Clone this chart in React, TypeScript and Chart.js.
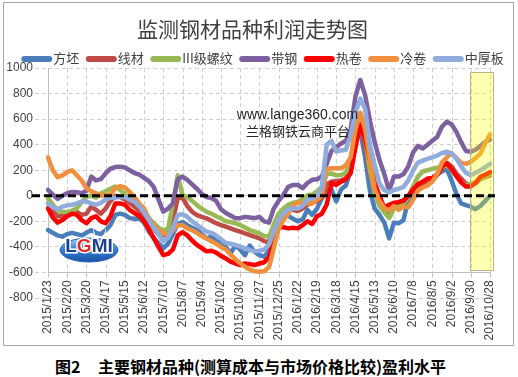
import React, { useEffect, useRef } from 'react';
import { Chart, registerables } from 'chart.js';

Chart.register(...registerables);

const categories = [
  '2015/1/23','2015/1/30','2015/2/6','2015/2/13','2015/2/20','2015/2/27','2015/3/6','2015/3/13','2015/3/20','2015/3/27',
  '2015/4/3','2015/4/10','2015/4/17','2015/4/24','2015/5/1','2015/5/8','2015/5/15','2015/5/22','2015/5/29','2015/6/5',
  '2015/6/12','2015/6/19','2015/6/26','2015/7/3','2015/7/10','2015/7/17','2015/7/24','2015/7/31','2015/8/7','2015/8/14',
  '2015/8/21','2015/8/28','2015/9/4','2015/9/11','2015/9/18','2015/9/25','2015/10/2','2015/10/9','2015/10/16','2015/10/23',
  '2015/10/30','2015/11/6','2015/11/13','2015/11/20','2015/11/27','2015/12/4','2015/12/11','2015/12/18','2015/12/25',
  '2016/1/1','2016/1/8','2016/1/15','2016/1/22','2016/1/29','2016/2/5','2016/2/12','2016/2/19','2016/2/26','2016/3/4',
  '2016/3/11','2016/3/18','2016/3/25','2016/4/1','2016/4/8','2016/4/15','2016/4/22','2016/4/29','2016/5/6','2016/5/13',
  '2016/5/20','2016/5/27','2016/6/3','2016/6/10','2016/6/17','2016/6/24','2016/7/1','2016/7/8','2016/7/15','2016/7/22',
  '2016/7/29','2016/8/5','2016/8/12','2016/8/19','2016/8/26','2016/9/2','2016/9/9','2016/9/16','2016/9/23','2016/9/30',
  '2016/10/7','2016/10/14','2016/10/21','2016/10/28'
];

// 方坯
const fangpi = [
  -268,-290,-310,-320,-300,-290,-300,-310,-290,-270,
  -290,-300,-270,-230,-150,-140,-150,-175,-180,-177,
  -210,-280,-330,-370,-412,-375,-300,-220,-205,-230,
  -250,-268,-300,-333,-320,-340,-380,-400,-450,-390,
  -420,-465,-390,-440,-465,-477,-430,-300,-200,-160,
  -155,-180,-200,-185,-110,-150,-100,-20,40,50,
  -45,50,80,200,420,510,300,40,-100,-150,
  -210,-333,-210,-215,-190,-30,25,80,97,100,
  130,165,190,210,120,15,-60,-73,-85,-105,
  -80,-40,0
];
// 线材
const xiancai = [
  -60,-120,-160,-155,-150,-135,-125,-150,-140,-85,
  -110,-140,-100,-40,0,-10,-30,-55,-85,-120,
  -160,-215,-260,-300,-310,-300,-190,-20,-15,-80,
  -125,-151,-165,-177,-195,-215,-230,-242,-255,-268,
  -281,-295,-307,-320,-333,-355,-365,-250,-165,-120,
  -100,-110,-120,-100,-70,-55,-40,-15,90,110,
  115,120,135,230,450,578,380,170,20,-50,
  -85,-125,-80,-50,-35,0,40,75,100,115,
  128,165,210,258,230,175,135,95,88,100,
  130,145,160
];
// III级螺纹
const luowen = [
  -21,-70,-115,-125,-130,-115,-99,-50,-8,0,
  -15,20,35,55,73,45,15,-20,-45,-80,
  -120,-175,-215,-250,-270,-260,-60,160,5,-10,
  -40,-73,-100,-125,-140,-160,-178,-200,-205,-215,
  -229,-248,-268,-280,-294,-315,-320,-225,-140,-100,
  -70,-55,-48,-25,5,10,35,70,170,175,
  160,162,180,280,540,630,460,200,20,-80,
  -130,-175,-100,-80,-60,-10,75,150,190,200,
  210,220,228,238,205,150,105,85,90,110,
  130,150,170
];
// 带钢
const daigang = [
  47,10,-25,0,20,30,28,20,40,150,
  120,130,175,213,225,228,222,200,178,165,
  140,115,70,-30,-125,-100,-60,130,150,125,
  90,55,15,-10,-18,-40,-105,-135,-155,-175,
  -175,-165,-170,-175,-165,-200,-210,-100,-40,8,
  70,85,85,60,100,125,130,150,250,350,
  380,410,430,520,780,906,790,590,420,280,
  170,40,150,150,170,230,340,390,370,400,
  430,460,540,580,560,500,420,350,345,360,
  390,420,440
];
// 热卷
const rejuan = [
  -100,-170,-210,-190,-160,-140,-150,-190,-215,-175,
  -160,-200,-215,-160,-60,-60,-70,-110,-135,-160,
  -200,-265,-330,-400,-464,-455,-420,-310,-285,-310,
  -350,-385,-410,-435,-430,-445,-470,-490,-515,-530,
  -542,-530,-535,-542,-530,-520,-480,-355,-250,-245,
  -255,-250,-255,-230,-200,-220,-160,-140,-70,100,
  85,110,130,175,380,560,450,290,100,0,
  -95,-70,-55,-50,-40,0,50,90,110,135,
  140,165,230,255,210,155,105,72,73,100,
  148,165,185
];
// 冷卷
const lengjuan = [
  300,200,145,160,185,200,160,120,60,35,
  20,0,5,10,60,75,65,30,-10,-60,
  -100,-180,-230,-270,-295,-305,-270,-230,-230,-255,
  -270,-290,-315,-335,-355,-375,-400,-420,-460,-495,
  -530,-555,-578,-590,-595,-590,-560,-410,-260,-190,
  -140,-80,-50,-60,-60,-60,-30,0,210,215,
  215,215,240,300,520,650,520,290,50,-40,
  -95,-115,-80,-110,-85,-90,-30,40,65,80,
  110,170,260,300,335,295,260,250,265,295,
  330,410,480
];
// 中厚板
const zhonghouban = [
  -60,-90,-105,-85,-75,-70,-60,-45,-45,-60,
  -70,-55,-30,-15,-15,-8,-10,-30,-47,-80,
  -130,-190,-250,-300,-355,-330,-250,-150,-145,-165,
  -200,-227,-255,-280,-290,-310,-340,-370,-375,-385,
  -398,-410,-425,-435,-430,-420,-380,-280,-190,-140,
  -105,-100,-100,-80,-30,-20,0,70,400,430,
  345,355,360,480,650,760,680,400,240,95,
  45,25,45,55,70,120,200,260,275,290,
  300,315,335,345,330,290,230,180,160,180,
  200,225,250
];

const seriesNames = ['方坯', '线材', 'III级螺纹', '带钢', '热卷', '冷卷', '中厚板'];
const seriesData = [fangpi, xiancai, luowen, daigang, rejuan, lengjuan, zhonghouban];
const seriesColors = ['#4A7EBB', '#BE4B48', '#98B954', '#7D60A0', '#FF0000', '#F0903F', '#8FACDD'];

const yMin = -800;
const yMax = 1000;
const yStep = 200;
const axisCross = -600;
const labelStep = 4;
const highlightFrom = 87.8;
const highlightTo = 92.6;
const highlightTop = 969;
const highlightBottom = -581;

const titleText = '监测钢材品种利润走势图';
const captionLead = '图2';
const captionText = '主要钢材品种(测算成本与市场价格比较)盈利水平';
const watermarkUrl = 'www.lange360.com';
const watermarkName = '兰格钢铁云商平台';
const logoText = 'LGMI';

const GRID = '#CFCFCF';
const AXIS = '#BFBFBF';
const TEXT = '#404040';
const CJK = '"Noto Sans CJK SC"';

const decorPlugin = {
  id: 'decor',
  beforeDatasetsDraw(chart: any) {
    const { ctx } = chart;
    const xs = chart.scales.x;
    const ys = chart.scales.y;
    const top = ys.getPixelForValue(yMax);
    const bottom = Math.round(ys.getPixelForValue(axisCross)) + 0.5;
    ctx.save();
    ctx.lineWidth = 1;
    ctx.strokeStyle = GRID;
    ctx.setLineDash([4, 3]);
    for (let i = labelStep; i < categories.length; i += labelStep) {
      const px = Math.round(xs.getPixelForValue(i)) + 0.5;
      ctx.beginPath();
      ctx.moveTo(px, top);
      ctx.lineTo(px, bottom);
      ctx.stroke();
    }
    ctx.setLineDash([]);
    ctx.strokeStyle = AXIS;
    const x0 = Math.round(xs.getPixelForValue(0)) + 0.5;
    ctx.beginPath();
    ctx.moveTo(x0, top);
    ctx.lineTo(x0, bottom);
    ctx.stroke();
    for (let i = 0; i < categories.length; i += labelStep) {
      const px = Math.round(xs.getPixelForValue(i)) + 0.5;
      ctx.beginPath();
      ctx.moveTo(px, bottom);
      ctx.lineTo(px, bottom + 5);
      ctx.stroke();
    }
    ctx.restore();
  },
  afterDatasetsDraw(chart: any) {
    const { ctx, chartArea } = chart;
    const xs = chart.scales.x;
    const ys = chart.scales.y;
    ctx.save();
    // highlight box
    const l = xs.getPixelForValue(highlightFrom);
    const r = xs.getPixelForValue(highlightTo);
    const t = ys.getPixelForValue(highlightTop);
    const b = ys.getPixelForValue(highlightBottom);
    ctx.fillStyle = 'rgba(255,255,0,0.3)';
    ctx.fillRect(l, t, r - l, b - t);
    ctx.strokeStyle = '#B8B68C';
    ctx.lineWidth = 1;
    ctx.strokeRect(Math.round(l) + 0.5, Math.round(t) + 0.5, Math.round(r - l), Math.round(b - t));
    // zero line
    const y0 = ys.getPixelForValue(0);
    ctx.strokeStyle = '#000000';
    ctx.lineWidth = 3;
    ctx.setLineDash([8, 4]);
    ctx.beginPath();
    ctx.moveTo(chartArea.left - 16, y0);
    ctx.lineTo(chartArea.right + 5, y0);
    ctx.stroke();
    ctx.setLineDash([]);
    // logo
    const cx = 89, cy = 248;
    const grad = ctx.createLinearGradient(0, cy - 12, 0, cy + 12);
    grad.addColorStop(0, '#BFE0FA');
    grad.addColorStop(0.5, '#3C86D8');
    grad.addColorStop(1, '#1D58AE');
    ctx.fillStyle = grad;
    ctx.beginPath();
    ctx.ellipse(cx, cy + 2, 29, 12, 0, 0, Math.PI * 2);
    ctx.fill();
    ctx.strokeStyle = '#2A62B5';
    ctx.lineWidth = 1;
    ctx.stroke();
    ctx.font = 'bold 19px "Liberation Sans"';
    ctx.textBaseline = 'middle';
    ctx.textAlign = 'left';
    const letterColors = ['#1E3F8F', '#E32626', '#1E3F8F', '#1E3F8F'];
    const totalW = ctx.measureText(logoText).width;
    let lx = cx - totalW / 2;
    for (let k = 0; k < logoText.length; k++) {
      const ch = logoText[k];
      ctx.lineWidth = 3;
      ctx.strokeStyle = '#FFFFFF';
      ctx.strokeText(ch, lx, cy - 1);
      ctx.fillStyle = letterColors[k];
      ctx.fillText(ch, lx, cy - 1);
      lx += ctx.measureText(ch).width;
    }
    ctx.restore();
  },
  afterDraw(chart: any) {
    const { ctx } = chart;
    ctx.save();
    // title
    ctx.font = `21px ${CJK}`;
    ctx.fillStyle = TEXT;
    ctx.textAlign = 'center';
    ctx.textBaseline = 'middle';
    ctx.fillText(titleText, 252.5, 29.5);
    // legend
    ctx.font = `13px ${CJK}`;
    const lineLen = 25, cap = 3, gapText = 1, gapItem = 6.5;
    const widths = seriesNames.map((n) => ctx.measureText(n).width);
    const itemW = widths.map((w) => cap * 2 + lineLen + gapText + w);
    const total = itemW.reduce((a, b) => a + b, 0) + gapItem * (seriesNames.length - 1);
    let x = 262.5 - total / 2;
    ctx.textAlign = 'left';
    ctx.lineCap = 'round';
    seriesNames.forEach((n, k) => {
      ctx.strokeStyle = seriesColors[k];
      ctx.lineWidth = 6;
      ctx.beginPath();
      ctx.moveTo(x + cap, 59);
      ctx.lineTo(x + cap + lineLen, 59);
      ctx.stroke();
      ctx.fillStyle = TEXT;
      ctx.fillText(n, x + cap * 2 + lineLen + gapText, 58);
      x += itemW[k] + gapItem;
    });
    // watermark
    ctx.fillStyle = '#262626';
    ctx.textAlign = 'center';
    ctx.font = '14px "Liberation Sans"';
    ctx.fillText(watermarkUrl, 297.5, 115);
    ctx.font = `13px ${CJK}`;
    ctx.fillText(watermarkName, 298, 131);
    ctx.restore();
  },
};

export default function App() {
  const ref = useRef<HTMLCanvasElement>(null);
  useEffect(() => {
    const canvas = ref.current;
    if (!canvas) return;
    const chart = new Chart(canvas, {
      type: 'line',
      data: {
        labels: categories,
        datasets: seriesNames.map((name, k) => ({
          label: name,
          data: seriesData[k],
          borderColor: seriesColors[k],
          backgroundColor: seriesColors[k],
          borderWidth: 4.5,
          pointRadius: 0,
          pointHoverRadius: 0,
          fill: false,
          tension: 0,
          order: seriesNames.length - 1 - k,
          borderCapStyle: 'round',
          borderJoinStyle: 'round',
        })),
      },
      options: {
        responsive: false,
        animation: false,
        events: [],
        layout: { padding: { top: 68, right: 28, bottom: 52, left: 0 } },
        plugins: {
          legend: { display: false },
          title: { display: false },
          tooltip: { enabled: false },
        },
        scales: {
          x: {
            type: 'category',
            axis: 'x',
            position: { y: axisCross },
            grid: { display: false, drawTicks: false },
            border: { display: true, color: AXIS, width: 1 },
            ticks: {
              autoSkip: false,
              maxRotation: 90,
              minRotation: 90,
              padding: 8,
              color: TEXT,
              font: { family: 'Liberation Sans', size: 12 },
              callback: (_v: any, i: number) => (i % labelStep === 0 ? categories[i] : ''),
            },
            afterFit: (s: any) => {
              s.paddingLeft = 0;
              s.paddingRight = 0;
            },
          },
          y: {
            type: 'linear',
            min: yMin,
            max: yMax,
            ticks: {
              stepSize: yStep,
              padding: 2,
              color: TEXT,
              font: { family: 'Liberation Sans', size: 12 },
              callback: (v: any) => String(v),
            },
            grid: {
              drawTicks: true,
              tickLength: 13,
              tickBorderDash: [4, 3],
              tickColor: GRID,
              lineWidth: 1,
              color: (c: any) => (c.tick && c.tick.value === axisCross ? AXIS : GRID),
            },
            border: {
              display: false,
              dash: (c: any) => (c.tick && c.tick.value === axisCross ? [] : [4, 3]),
            },
            afterFit: (s: any) => {
              s.width = 48;
            },
          },
        },
      },
      plugins: [decorPlugin],
    } as any);
    return () => chart.destroy();
  }, []);

  return (
    <div style={{ position: 'absolute', left: 0, top: 0, width: 518, height: 377, background: '#ffffff' }}>
      <div
        style={{
          position: 'absolute',
          left: 3,
          top: 2,
          width: 511,
          height: 344,
          boxSizing: 'border-box',
          border: '1px solid #A6A6A6',
        }}
      />
      <canvas ref={ref} width={518} height={350} style={{ position: 'absolute', left: 0, top: 0 }} />
      <div
        style={{
          position: 'absolute',
          left: 55,
          top: 356,
          fontFamily: CJK,
          fontWeight: 700,
          fontSize: 16,
          lineHeight: '20px',
          color: '#000',
          whiteSpace: 'nowrap',
        }}
      >
        {captionLead}
      </div>
      <div
        style={{
          position: 'absolute',
          left: 98,
          top: 356,
          fontFamily: CJK,
          fontWeight: 700,
          fontSize: 16,
          lineHeight: '20px',
          color: '#000',
          whiteSpace: 'nowrap',
        }}
      >
        {captionText}
      </div>
    </div>
  );
}
